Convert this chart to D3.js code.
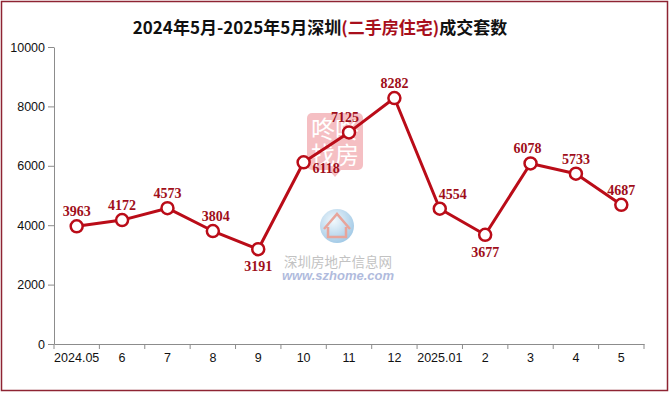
<!DOCTYPE html>
<html>
<head>
<meta charset="utf-8">
<script src="https://cdn.jsdelivr.net/npm/d3@7"></script>
<style>
  html, body { margin: 0; padding: 0; background: #fff; }
  svg { display: block; }
</style>
</head>
<body>
<svg width="670" height="393"></svg>
<script>
// data
var months = ["2024.05", "6", "7", "8", "9", "10", "11", "12", "2025.01", "2", "3", "4", "5"];
var deals = [3963, 4172, 4573, 3804, 3191, 6118, 7125, 8282, 4554, 3677, 6078, 5733, 4687];
var yTicks = [0, 2000, 4000, 6000, 8000, 10000];

// where each data label sits (like excel's label placement)
var labelPos = ["above", "above", "above", "above", "below", "right", "above", "above", "above", "below", "above", "above", "above"];
var labelShift = {3: 3, 6: -4, 8: 13, 10: -3};

var svg = d3.select('svg');
var width = +svg.attr('width');
var height = +svg.attr('height');
var red = '#BA0C18';

var margin = {left: 54, right: 26, top: 47, bottom: 49};

var x = d3.scaleBand()
    .domain(months)
    .range([margin.left, width - margin.right])
    .padding(0);

var y = d3.scaleLinear()
    .domain([0, 10000])
    .range([height - margin.bottom, margin.top]);

// outer frame
svg.append('rect')
    .attr('x', 1.5).attr('y', 1.5)
    .attr('width', width - 4).attr('height', height - 4)
    .attr('fill', '#fff')
    .attr('stroke', '#8E2433')
    .attr('stroke-width', 1.5);

// watermark: 咚咚找房
var wm = svg.append('g').attr('opacity', 0.3);
wm.append('rect')
    .attr('x', 307).attr('y', 113)
    .attr('width', 56).attr('height', 57)
    .attr('rx', 5)
    .attr('fill', '#E0303C');
wm.append('path')
    .attr('d', 'M329,170 L335,177 L341,170 Z')
    .attr('fill', '#E0303C');
wm.append('text')
    .attr('x', 335).attr('y', 138)
    .attr('text-anchor', 'middle')
    .attr('font-family', 'Noto Sans CJK SC')
    .attr('font-size', 24)
    .attr('fill', '#fff')
    .text('咚咚');
wm.append('text')
    .attr('x', 335).attr('y', 164)
    .attr('text-anchor', 'middle')
    .attr('font-family', 'Noto Sans CJK SC')
    .attr('font-size', 24)
    .attr('fill', '#fff')
    .text('找房');

// watermark: szhome
var wm2 = svg.append('g').attr('opacity', 0.6);
var grad = svg.append('defs').append('radialGradient')
    .attr('id', 'ball').attr('cx', '40%').attr('cy', '35%').attr('r', '65%');
grad.append('stop').attr('offset', '0%').attr('stop-color', '#EAF5FC');
grad.append('stop').attr('offset', '100%').attr('stop-color', '#6AAAD8');
wm2.append('circle')
    .attr('cx', 337).attr('cy', 226).attr('r', 17)
    .attr('fill', 'url(#ball)');
wm2.append('path')
    .attr('d', 'M324,229 L337,214 L350,229 M328,227 L328,237 L346,237 L346,227')
    .attr('fill', 'none')
    .attr('stroke', '#D86A5A')
    .attr('stroke-width', 2.5);
wm2.append('text')
    .attr('x', 338).attr('y', 267)
    .attr('text-anchor', 'middle')
    .attr('font-family', 'Noto Sans CJK SC')
    .attr('font-size', 13.5)
    .attr('fill', '#9a9a9a')
    .text('深圳房地产信息网');
wm2.append('text')
    .attr('x', 338).attr('y', 280)
    .attr('text-anchor', 'middle')
    .attr('font-family', 'Liberation Sans')
    .attr('font-size', 13)
    .attr('font-style', 'italic')
    .attr('font-weight', 'bold')
    .attr('fill', '#7D8FC8')
    .text('www.szhome.com');

// title
var title = svg.append('text')
    .attr('x', 320).attr('y', 34)
    .attr('text-anchor', 'middle')
    .attr('font-family', 'Noto Sans CJK SC')
    .attr('font-weight', 'bold')
    .attr('font-size', 17)
    .attr('fill', '#111');
title.append('tspan').text('2024年5月-2025年5月深圳');
title.append('tspan').attr('fill', '#A80F1C').text('(二手房住宅)');
title.append('tspan').text('成交套数');

// y axis
var yAxis = svg.append('g')
    .attr('transform', 'translate(' + margin.left + ',0)')
    .call(d3.axisLeft(y).tickValues(yTicks).tickSize(6).tickSizeOuter(0).tickFormat(d3.format('d')));
yAxis.select('.domain').attr('stroke', '#8c8c8c');
yAxis.selectAll('.tick line').attr('stroke', '#8c8c8c');
yAxis.selectAll('.tick text')
    .attr('x', -9)
    .attr('font-family', 'Liberation Sans')
    .attr('font-size', 12.5)
    .attr('fill', '#111');

// x axis
var xAxis = svg.append('g')
    .attr('transform', 'translate(0,' + y(0) + ')')
    .call(d3.axisBottom(x).tickSize(0).tickSizeOuter(0));
xAxis.select('.domain').attr('stroke', '#8c8c8c');
xAxis.selectAll('.tick text')
    .attr('y', 9)
    .attr('font-family', 'Liberation Sans')
    .attr('font-size', 12.5)
    .attr('fill', '#111');
var bounds = months.map(function(m) { return x(m); }).concat([x.range()[1]]);
xAxis.selectAll('.bound')
    .data(bounds)
    .enter()
    .append('line')
    .attr('class', 'bound')
    .attr('x1', function(d) { return d; })
    .attr('x2', function(d) { return d; })
    .attr('y1', 0).attr('y2', 5)
    .attr('stroke', '#8c8c8c');

// line
var cx = function(d, i) { return x(months[i]) + x.bandwidth() / 2; };
var line = d3.line()
    .x(cx)
    .y(function(d) { return y(d); });

svg.append('path')
    .datum(deals)
    .attr('d', line)
    .attr('fill', 'none')
    .attr('stroke', red)
    .attr('stroke-width', 3)
    .attr('stroke-linejoin', 'round');

svg.selectAll('.dot')
    .data(deals)
    .enter()
    .append('circle')
    .attr('class', 'dot')
    .attr('cx', cx)
    .attr('cy', function(d) { return y(d); })
    .attr('r', 6)
    .attr('fill', '#fff')
    .attr('stroke', red)
    .attr('stroke-width', 2.5);

// data labels
svg.selectAll('.lbl')
    .data(deals)
    .enter()
    .append('text')
    .attr('class', 'lbl')
    .attr('x', function(d, i) {
      if (labelPos[i] === 'right') return cx(d, i) + 9;
      return cx(d, i) + (labelShift[i] || 0);
    })
    .attr('y', function(d, i) {
      if (labelPos[i] === 'below') return y(d) + 22;
      if (labelPos[i] === 'right') return y(d) + 11;
      return y(d) - 10;
    })
    .attr('text-anchor', function(d, i) { return labelPos[i] === 'right' ? 'start' : 'middle'; })
    .attr('font-family', 'Liberation Serif')
    .attr('font-weight', 'bold')
    .attr('font-size', 14)
    .attr('fill', '#A00E1A')
    .text(function(d) { return d; });
</script>
</body>
</html>
